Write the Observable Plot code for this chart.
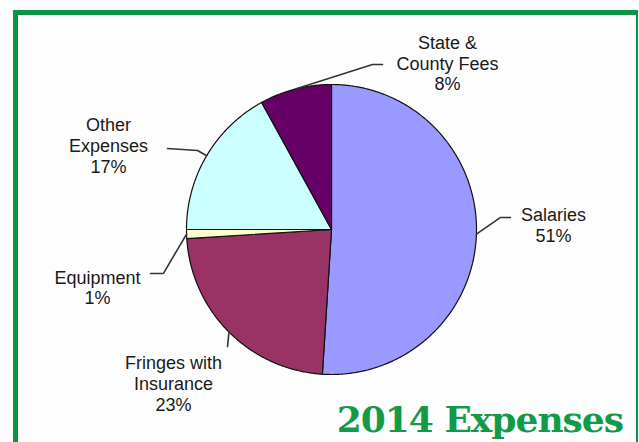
<!DOCTYPE html>
<html>
<head>
<meta charset="utf-8">
<script src="https://cdn.jsdelivr.net/npm/d3@7"></script>
<script src="https://cdn.jsdelivr.net/npm/@observablehq/plot@0.6"></script>
<style>
  html, body { margin: 0; padding: 0; width: 639px; height: 442px; overflow: hidden; background: #fdfdfd; }
  #wrap { position: relative; width: 639px; height: 442px; }
  #frame { position: absolute; left: 13px; top: 10px; width: 618px; height: 500px;
           border-left: 5px solid #0b9444; border-top: 5px solid #0b9444; border-right: 2px solid #0b9444; }
  #chart { position: absolute; left: 0; top: 0; }
  #title { position: absolute; right: 16px; top: 401px; font-family: "DejaVu Serif", serif; font-weight: bold;
           font-size: 36px; line-height: 36px; letter-spacing: -1px; color: #119a48; white-space: nowrap; }
</style>
</head>
<body>
<div id="wrap">
  <div id="frame"></div>
  <div id="chart"></div>
  <div id="title">2014 Expenses</div>
</div>
<script>
// ---- data ----
const categories = ["Salaries", "Fringes with Insurance", "Equipment", "Other Expenses", "State & County Fees"];
const values = [51, 23, 1, 17, 8];
const labelNames = ["Salaries", "Fringes with\nInsurance", "Equipment", "Other\nExpenses", "State &\nCounty Fees"];
const sliceColors = ["#9999ff", "#993366", "#ffffcc", "#ccffff", "#660066"];

// ---- layout (in pie-radius units, centre = 0,0) ----
const cx = 331, cy = 229, R = 145, W = 639, H = 442;
// label centre and leader path (elbow / end) per category
const labelPos = [[1.531, 0.03], [-1.09, -1.062], [-1.614, -0.40], [-1.538, 0.58], [0.80, 1.148]];
const leaderPts = [
  [[1.166, 0.083], [1.234, 0.083]],
  [[-0.717, -0.807]],
  [[-1.159, -0.303], [-1.248, -0.303]],
  [[-0.924, 0.545], [-1.131, 0.559]],
  [[0.283, 1.138], [0.352, 1.138]]
];

const arcs = d3.pie().sort(null).startAngle(0).endAngle(2 * Math.PI)(values);

const poly = [];
arcs.forEach((a, i) => {
  const name = categories[i];
  poly.push({name, u: 0, v: 0});
  const n = Math.max(2, Math.ceil((a.endAngle - a.startAngle) / (Math.PI / 360)));
  for (let k = 0; k <= n; k++) {
    const t = a.startAngle + (a.endAngle - a.startAngle) * k / n;
    poly.push({name, u: Math.sin(t), v: Math.cos(t)});
  }
  poly.push({name, u: 0, v: 0});
});

const leaders = [];
arcs.forEach((a, i) => {
  const m = (a.startAngle + a.endAngle) / 2;
  const name = categories[i];
  leaders.push({name, u: Math.sin(m), v: Math.cos(m)});
  leaderPts[i].forEach(p => leaders.push({name, u: p[0], v: p[1]}));
});

const labels = categories.map((c, i) => ({
  name: c, u: labelPos[i][0], v: labelPos[i][1],
  text: labelNames[i] + "\n" + values[i] + "%"
}));

const chart = Plot.plot({
  width: W, height: H, margin: 0,
  style: {background: "transparent"},
  x: {domain: [-cx / R, (W - cx) / R], axis: null},
  y: {domain: [-(H - cy) / R, cy / R], axis: null},
  color: {domain: categories, range: sliceColors},
  marks: [
    Plot.line(poly, {x: "u", y: "v", z: "name", fill: "name", stroke: "#111", strokeWidth: 1.2, strokeLinejoin: "round"}),
    Plot.line(leaders, {x: "u", y: "v", z: "name", stroke: "#333", strokeWidth: 1.6}),
    Plot.text(labels, {x: "u", y: "v", text: "text", fontSize: 18, lineHeight: 1.15,
      fontFamily: "'Liberation Sans', Arial, sans-serif", fill: "#1a1a1a", textAnchor: "middle"})
  ]
});
document.getElementById("chart").appendChild(chart);
</script>
</body>
</html>
